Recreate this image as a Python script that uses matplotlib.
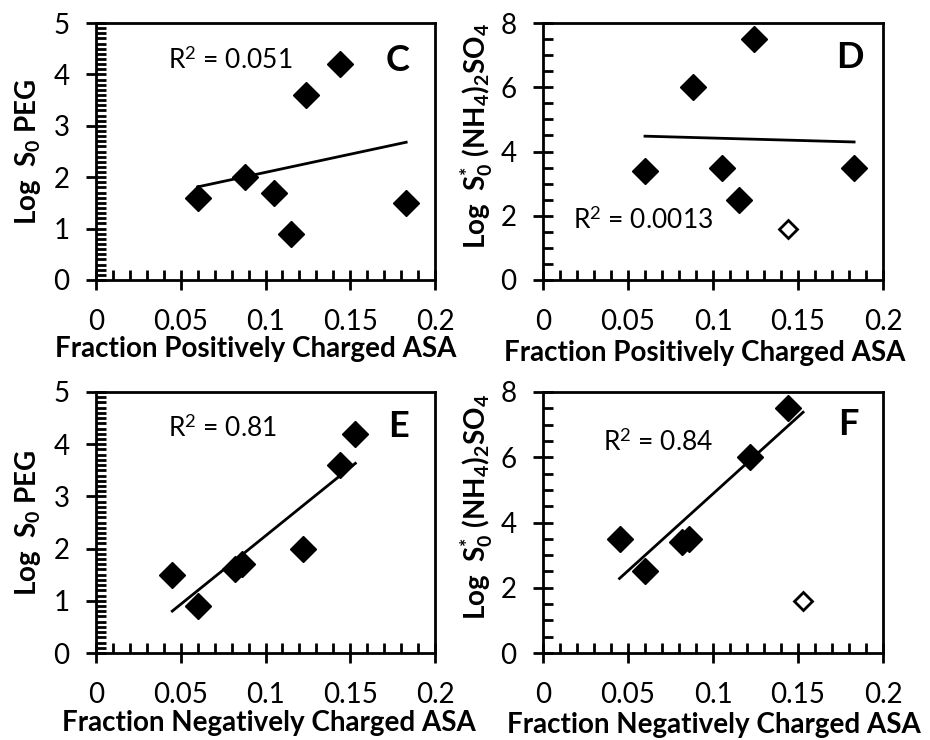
import matplotlib.pyplot as plt
from matplotlib.ticker import MultipleLocator
import numpy as np

plt.rcParams['font.family'] = ['Lato', 'DejaVu Sans']
plt.rcParams['mathtext.fontset'] = 'custom'
plt.rcParams['mathtext.rm'] = 'Lato'
plt.rcParams['mathtext.bf'] = 'Lato:bold'
plt.rcParams['mathtext.it'] = 'Lato:italic'

# fraction of accessible surface area, per protein
pos_frac = [0.060, 0.088, 0.105, 0.115, 0.124, 0.144, 0.183]
neg_frac = [0.082, 0.122, 0.086, 0.060, 0.144, 0.153, 0.045]
log_s0_peg = [1.6, 2.0, 1.7, 0.9, 3.6, 4.2, 1.5]
log_s0_as = [3.4, 6.0, 3.5, 2.5, 7.5, 1.6, 3.5]
outlier = [False, False, False, False, False, True, False]  # open symbol, left out of fit
r2_labels = ["0.051", "0.0013", "0.81", "0.84"]
xticks = [0, 0.05, 0.1, 0.15, 0.2]
xticklabels = ["0", "0.05", "0.1", "0.15", "0.2"]

peg_ylabel = r"Log  S$_\mathbf{0}$ PEG"
as_ylabel = r"Log  S$_\mathbf{0}^\mathbf{*}$ (NH$_\mathbf{4}$)$_\mathbf{2}$SO$_\mathbf{4}$"

panels = [
    # letter, x, y, ymax, ymajor, yminor, xlabel, ylabel, r2 pos, letter pos, label coords
    ("C", pos_frac, log_s0_peg, 5, 1, 0.1, "Fraction Positively Charged ASA", peg_ylabel,
     (0.395, 0.856), (0.891, 0.856), (0.47, -0.27), (-0.20, 0.50)),
    ("D", pos_frac, log_s0_as, 8, 2, 0.5, "Fraction Positively Charged ASA", as_ylabel,
     (0.294, 0.233), (0.903, 0.864), (0.476, -0.285), (-0.195, 0.56)),
    ("E", neg_frac, log_s0_peg, 5, 1, 0.1, "Fraction Negatively Charged ASA", peg_ylabel,
     (0.372, 0.862), (0.891, 0.866), (0.51, -0.268), (-0.20, 0.50)),
    ("F", neg_frac, log_s0_as, 8, 2, 0.5, "Fraction Negatively Charged ASA", as_ylabel,
     (0.338, 0.808), (0.897, 0.874), (0.503, -0.276), (-0.195, 0.56)),
]

rects = {
    "C": [96 / 930, 1 - 280 / 740, 339 / 930, 257 / 740],
    "D": [543 / 930, 1 - 280 / 740, 340 / 930, 257 / 740],
    "E": [96 / 930, 1 - 653 / 740, 339 / 930, 261 / 740],
    "F": [543 / 930, 1 - 653 / 740, 340 / 930, 261 / 740],
}

fig = plt.figure(figsize=(9.3, 7.4), dpi=100)

for i, (letter, xs, ys, ymax, ymaj, ymin, xlab, ylab, r2pos, letpos, xlc, ylc) in enumerate(panels):
    ax = fig.add_axes(rects[letter])
    xs = np.array(xs)
    ys = np.array(ys)
    # the open symbol only appears on the ammonium sulfate panels
    if ymax == 8:
        keep = ~np.array(outlier)
    else:
        keep = np.ones(len(xs), bool)

    ax.plot(xs[keep], ys[keep], 'D', color='black', ms=13, zorder=3)
    if not keep.all():
        ax.plot(xs[~keep], ys[~keep], 'D', mfc='white', mec='black', mew=2, ms=9, zorder=3)

    slope, icpt = np.polyfit(xs[keep], ys[keep], 1)
    xl = np.array([xs.min(), xs.max()])
    ax.plot(xl, slope * xl + icpt, color='black', lw=2, zorder=2)

    ax.text(r2pos[0], r2pos[1], "R$^2$ = " + r2_labels[i], transform=ax.transAxes,
            ha='center', va='center', fontsize=19)
    ax.text(letpos[0], letpos[1], letter, transform=ax.transAxes,
            ha='center', va='center', fontsize=26, fontweight='bold')

    ax.set_xlim(0, 0.2)
    ax.set_ylim(0, ymax)
    ax.set_xticks(xticks)
    ax.set_xticklabels(xticklabels)
    ax.xaxis.set_minor_locator(MultipleLocator(0.01))
    yt = np.arange(0, ymax + 0.1, ymaj)
    ax.set_yticks(yt)
    ax.set_yticklabels([str(int(v)) for v in yt])
    ax.yaxis.set_minor_locator(MultipleLocator(ymin))

    ax.tick_params(which='major', direction='inout', length=14, width=2, labelsize=20, pad=12)
    ax.tick_params(which='minor', direction='in', length=7, width=2)
    ax.tick_params(axis='x', which='major', pad=14)
    for sp in ax.spines.values():
        sp.set_linewidth(2)

    ax.set_xlabel(xlab, fontsize=20, fontweight='bold', va='center')
    ax.set_ylabel(ylab, fontsize=20, fontweight='bold', va='center')
    ax.xaxis.set_label_coords(*xlc)
    ax.yaxis.set_label_coords(*ylc)

plt.savefig("out.png", dpi=100)
